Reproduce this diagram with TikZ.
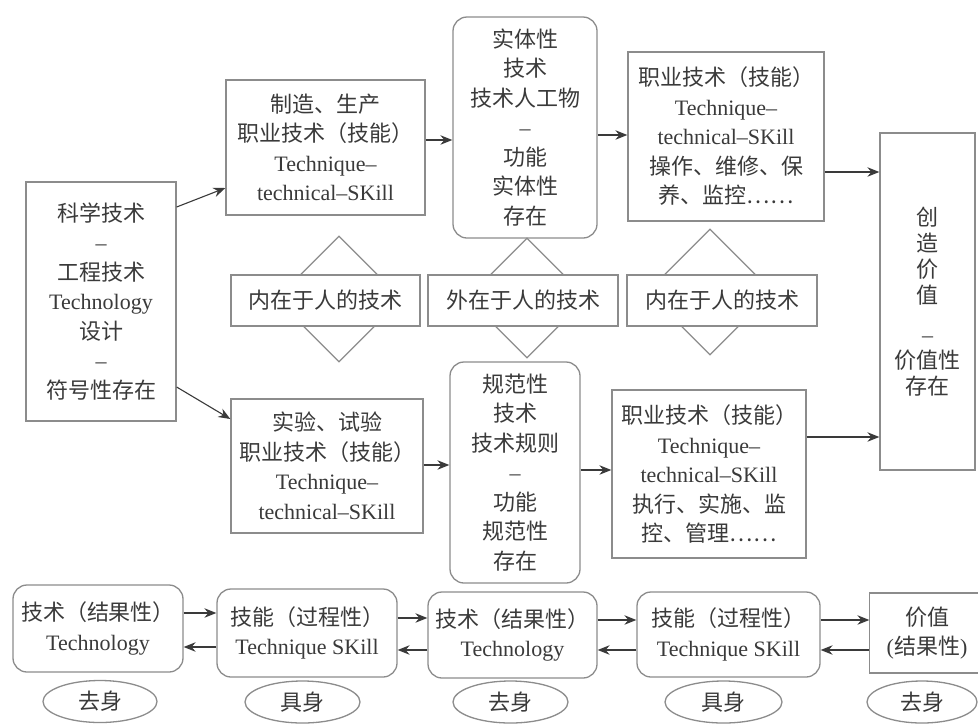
\documentclass[tikz,border=0pt]{standalone}
\usepackage{fontspec}
\setmainfont{Liberation Serif}
\newfontfamily\cjk{Noto Sans CJK SC}
\newcommand\zh[1]{{\cjk #1}}
\usetikzlibrary{arrows.meta,shapes.geometric}
\definecolor{boxline}{HTML}{8C8C8C}
\definecolor{txt}{HTML}{3A3A3A}
\definecolor{arrowc}{HTML}{3A3A3A}
\tikzset{
  base/.style={draw=boxline, line width=1.3pt, text=txt, align=center, inner sep=0pt,
               font=\fontsize{22}{29.5}\selectfont},
  sq/.style={base, rectangle},
  rnd/.style={base, rectangle, rounded corners=14pt},
  dia/.style={draw=boxline, line width=1.3pt, diamond, inner sep=0pt},
  lbl/.style={sq, fill=white},
  ell/.style={base, ellipse},
  arr/.style={draw=arrowc, line width=1.1pt, -{Stealth[length=12pt,width=9.5pt,inset=4pt]}},
}
\begin{document}
\begin{tikzpicture}[x=1pt,y=-1pt]
\useasboundingbox (0,0) rectangle (978,724);
\fill[white] (0,0) rectangle (978,724);

% diamonds (drawn first, labels on top)
\node[dia, minimum width=126, minimum height=126] (d1) at (339,299) {};
\node[dia, minimum width=120, minimum height=120] (d2) at (527,298) {};
\node[dia, minimum width=126, minimum height=126] (d3) at (710,292) {};

% main boxes
\node[sq, minimum width=150, minimum height=239] (L) at (101,301.5)
  {\zh{科学技术}\\–\\\zh{工程技术}\\Technology\\\zh{设计}\\–\\\zh{符号性存在}};
\node[sq, minimum width=199, minimum height=135] (T1) at (325.5,147.5)
  {\zh{制造、生产}\\\zh{职业技术（技能）}\\Technique–\\technical–SKill};
\node[rnd, minimum width=144, minimum height=221] (R1) at (525,127.5)
  {\zh{实体性}\\\zh{技术}\\\zh{技术人工物}\\–\\\zh{功能}\\\zh{实体性}\\\zh{存在}};
\node[sq, minimum width=196, minimum height=169] (T2) at (726,136.5)
  {\zh{职业技术（技能）}\\Technique–\\technical–SKill\\\zh{操作、维修、保}\\\zh{养、监控……}};
\node[sq, minimum width=192, minimum height=134] (B1) at (327,466)
  {\zh{实验、试验}\\\zh{职业技术（技能）}\\Technique–\\technical–SKill};
\node[rnd, minimum width=130, minimum height=221] (R2) at (515,472.5)
  {\zh{规范性}\\\zh{技术}\\\zh{技术规则}\\–\\\zh{功能}\\\zh{规范性}\\\zh{存在}};
\node[sq, minimum width=194, minimum height=168] (B2) at (709,474)
  {\zh{职业技术（技能）}\\Technique–\\technical–SKill\\\zh{执行、实施、监}\\\zh{控、管理……}};
\node[sq, minimum width=95, minimum height=337, font=\fontsize{22}{26}\selectfont] (V) at (927.5,301.5)
  {\zh{创}\\\zh{造}\\\zh{价}\\\zh{值}\\[13pt]–\\\zh{价值性}\\\zh{存在}};

% labels on diamonds
\node[lbl, minimum width=189, minimum height=51] (K1) at (325.5,300.5) {\zh{内在于人的技术}};
\node[lbl, minimum width=190, minimum height=51] (K2) at (523,300.5) {\zh{外在于人的技术}};
\node[lbl, minimum width=190, minimum height=51] (K3) at (722,300.5) {\zh{内在于人的技术}};

% upper connectors
\draw[arr] (L.east |- 0,207) -- (T1.west |- 0,188);
\draw[arr] (L.east |- 0,387) -- (B1.west |- 0,419);
\draw[arr] (T1.east |- 0,140) -- (R1.west |- 0,140);
\draw[arr] (R1.east |- 0,135) -- (T2.west |- 0,135);
\draw[arr] (T2.east |- 0,172) -- (V.west |- 0,172);
\draw[arr] (B1.east |- 0,465) -- (R2.west |- 0,465);
\draw[arr] (R2.east |- 0,470) -- (B2.west |- 0,470);
\draw[arr] (B2.east |- 0,437) -- (V.west |- 0,437);

% bottom row
\node[rnd, minimum width=170, minimum height=87] (b1) at (98,628.5)
  {\zh{技术（结果性）}\\Technology};
\node[rnd, minimum width=180, minimum height=88] (b2) at (307,633)
  {\zh{技能（过程性）}\\Technique SKill};
\node[rnd, minimum width=169, minimum height=86] (b3) at (512.5,635)
  {\zh{技术（结果性）}\\Technology};
\node[rnd, minimum width=183, minimum height=85] (b4) at (728.5,634.5)
  {\zh{技能（过程性）}\\Technique SKill};
\node[base, draw=none, minimum width=114, minimum height=80] (b5) at (927,633)
  {\zh{价值}\\(\zh{结果性})};
\draw[boxline, line width=1.3pt] (978,593) -- (b5.north west |- 0,593) -- (b5.south west |- 0,673) -- (978,673);

\draw[arr] (b1.east |- 0,613) -- (b2.west |- 0,613);
\draw[arr] (b2.west |- 0,647) -- (b1.east |- 0,647);
\draw[arr] (b2.east |- 0,618) -- (b3.west |- 0,618);
\draw[arr] (b3.west |- 0,650) -- (b2.east |- 0,650);
\draw[arr] (b3.east |- 0,620) -- (b4.west |- 0,620);
\draw[arr] (b4.west |- 0,650) -- (b3.east |- 0,650);
\draw[arr] (b4.east |- 0,620) -- (b5.west |- 0,620);
\draw[arr] (b5.west |- 0,650) -- (b4.east |- 0,650);

% ellipses
\node[ell, minimum width=114, minimum height=42] (e1) at (100,701.5) {\zh{去身}};
\node[ell, minimum width=115, minimum height=42] (e2) at (302.5,702) {\zh{具身}};
\node[ell, minimum width=115, minimum height=42] (e3) at (510.5,702) {\zh{去身}};
\node[ell, minimum width=117, minimum height=42] (e4) at (723.5,702) {\zh{具身}};
\node[ell, minimum width=110, minimum height=42] (e5) at (922,702) {\zh{去身}};
\end{tikzpicture}
\end{document}
